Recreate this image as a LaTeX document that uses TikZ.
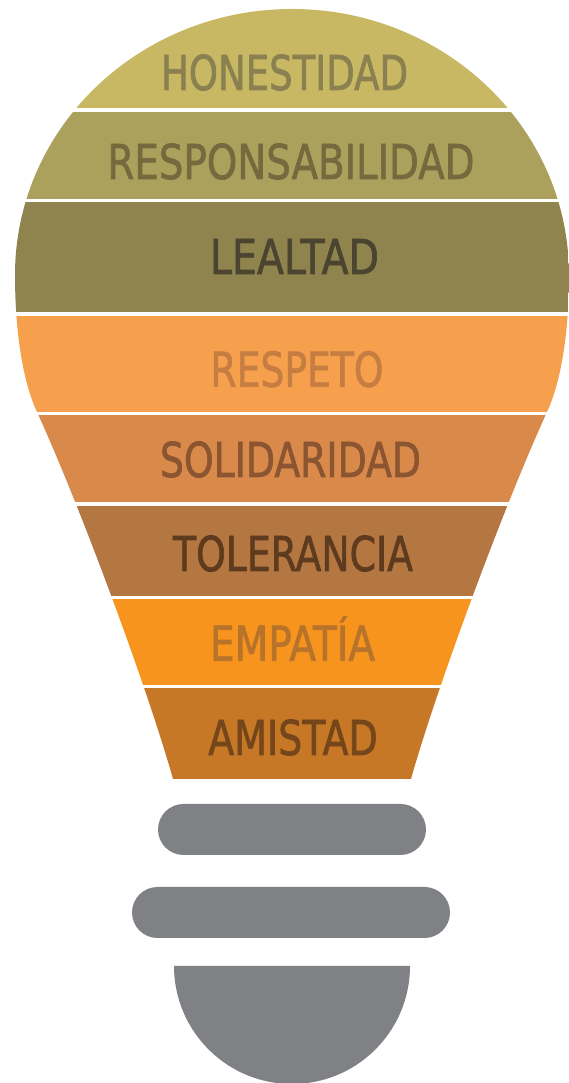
\documentclass[tikz,border=0pt]{standalone}
\usepackage{fontspec}
\setmainfont{DejaVu Sans}
\newfontfamily\labfont[FakeBold=1.6]{DejaVu Sans}
\usepackage{graphicx}
\definecolor{bA}{RGB}{200,184,100}
\definecolor{bB}{RGB}{171,160,92}
\definecolor{bC}{RGB}{143,132,77}
\definecolor{bD}{RGB}{246,160,77}
\definecolor{bE}{RGB}{217,138,74}
\definecolor{bF}{RGB}{181,119,66}
\definecolor{bG}{RGB}{247,148,30}
\definecolor{bH}{RGB}{198,120,38}
\definecolor{tA}{RGB}{138,128,80}
\definecolor{tB}{RGB}{117,105,62}
\definecolor{tC}{RGB}{74,68,48}
\definecolor{tD}{RGB}{198,125,66}
\definecolor{tE}{RGB}{138,85,48}
\definecolor{tF}{RGB}{94,58,30}
\definecolor{tG}{RGB}{184,115,42}
\definecolor{tH}{RGB}{116,70,26}
\definecolor{capgray}{RGB}{128,129,133}
\newcommand\fitlbl[2]{\resizebox{#1pt}{\height}{#2}}
\begin{document}
\begin{tikzpicture}[x=1pt,y=1pt,
  lab/.style={inner sep=0pt, anchor=base, font=\fontsize{48}{48}\labfont},
  gap/.style={white, line width=3.3pt},
  capbar/.style={fill=capgray, rounded corners=25.5pt}]
\useasboundingbox (0,0) rectangle (569,1083);
\begin{scope}
\clip (173,304) -- (411,304) .. controls (435,390) and (503,575) .. (547,671)
  .. controls (564,708) and (569,763) .. (569,808)
  arc[start angle=0,end angle=180,x radius=277,y radius=266]
  .. controls (15,763) and (20,708) .. (37,671)
  .. controls (81,575) and (149,390) .. (173,304) -- cycle;
\fill[bA] (0,973) rectangle (569,1083);
\fill[bB] (0,882.5) rectangle (569,973);
\fill[bC] (0,769) rectangle (569,882.5);
\fill[bD] (0,669.5) rectangle (569,769);
\fill[bE] (0,579) rectangle (569,669.5);
\fill[bF] (0,485.5) rectangle (569,579);
\fill[bG] (0,396.5) rectangle (569,485.5);
\fill[bH] (0,290) rectangle (569,396.5);
\end{scope}
\foreach \yy in {973,882.5,769,669.5,579,485.5,396.5}
  \draw[gap] (0,\yy) -- (569,\yy);
\node[lab, text=tA] (hon) at (284.5,993) {\fitlbl{247}{HONESTIDAD}};
\node[lab, text=tB] (res) at (291,904) {\fitlbl{367}{RESPONSABILIDAD}};
\node[lab, text=tC] (lea) at (294.5,809) {\fitlbl{169}{LEALTAD}};
\node[lab, text=tD] (rsp) at (297,696.3) {\fitlbl{173}{RESPETO}};
\node[lab, text=tE] (sol) at (290.5,606) {\fitlbl{261}{SOLIDARIDAD}};
\node[lab, text=tF] (tol) at (293,512) {\fitlbl{240}{TOLERANCIA}};
\node[lab, text=tG] (emp) at (292.5,422.3) {\fitlbl{165}{EMPATÍA}};
\node[lab, text=tH] (ami) at (293,328) {\fitlbl{169.5}{AMISTAD}};
\path[capbar] (158,228) rectangle (426,279);
\path[capbar] (132,145) rectangle (450,196);
\fill[capgray] (174,117) arc[start angle=180,end angle=360,radius=118] -- cycle;
\end{tikzpicture}
\end{document}
